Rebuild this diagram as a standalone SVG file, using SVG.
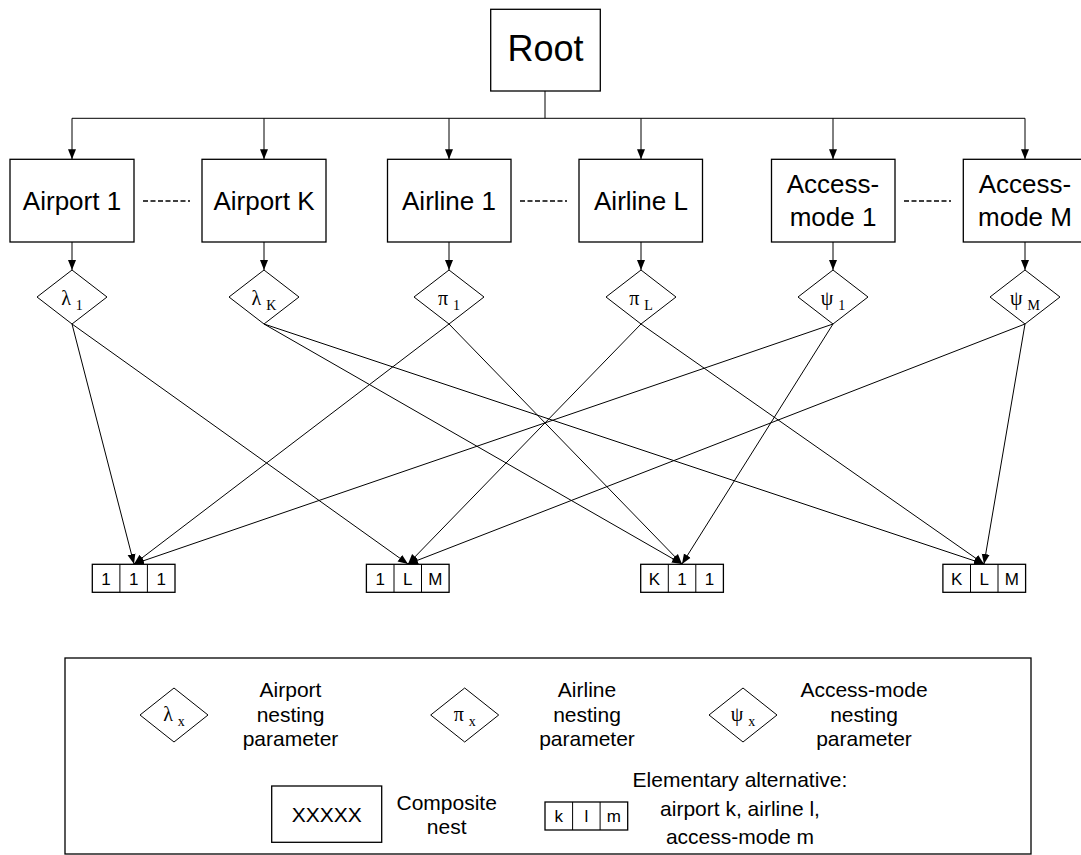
<svg xmlns="http://www.w3.org/2000/svg" width="1081" height="855" viewBox="0 0 1081 855">
<defs>
<marker id="ah" markerUnits="userSpaceOnUse" markerWidth="10" markerHeight="10" viewBox="0 0 10 10" refX="10" refY="5" orient="auto">
<path d="M0,1 L10,5 L0,9 Z" fill="#000"/>
</marker>
<style>
.box{fill:#fff;stroke:#000;stroke-width:1.3}
.dia{fill:#fff;stroke:#000;stroke-width:1}
.ln{fill:none;stroke:#000;stroke-width:1}
.arr{fill:none;stroke:#000;stroke-width:1;marker-end:url(#ah)}
.dash{fill:none;stroke:#000;stroke-width:1.4;stroke-dasharray:5 2.5}
.t{font-family:"Liberation Sans",Arial,sans-serif;fill:#000;text-anchor:middle}
.big{font-size:26px}
.root{font-size:36px}
.cell{font-size:17px}
.leg{font-size:21px}
.g{font-family:"Liberation Serif","Times New Roman",serif;fill:#000;text-anchor:middle;font-size:20px}
.sub{font-size:14px}
</style>
</defs>
<rect width="1081" height="855" fill="#fff"/>

<g id="connectors">
<path class="ln" d="M545,91 V118.3" stroke-width="1.6"/>
<path class="ln" d="M72,118.3 H1025"/>
<path class="arr" d="M72,118.3 V159.3"/>
<path class="arr" d="M264,118.3 V159.3"/>
<path class="arr" d="M449,118.3 V159.3"/>
<path class="arr" d="M641,118.3 V159.3"/>
<path class="arr" d="M833,118.3 V159.3"/>
<path class="arr" d="M1025,118.3 V159.3"/>
<path class="arr" d="M72,242 V270"/>
<path class="arr" d="M264,242 V270"/>
<path class="arr" d="M449,242 V270"/>
<path class="arr" d="M641,242 V270"/>
<path class="arr" d="M833,242 V270"/>
<path class="arr" d="M1025,242 V270"/>
<path class="dash" d="M143,201 H190"/>
<path class="dash" d="M520,201 H567"/>
<path class="dash" d="M904,201 H951"/>
<path class="arr" d="M72,324 L134,564"/>
<path class="arr" d="M72,324 L408,564"/>
<path class="arr" d="M264,324 L682,564"/>
<path class="arr" d="M264,324 L984,564"/>
<path class="arr" d="M449,324 L134,564"/>
<path class="arr" d="M449,324 L682,564"/>
<path class="arr" d="M641,324 L408,564"/>
<path class="arr" d="M641,324 L984,564"/>
<path class="arr" d="M833,324 L134,564"/>
<path class="arr" d="M833,324 L682,564"/>
<path class="arr" d="M1025,324 L408,564"/>
<path class="arr" d="M1025,324 L984,564"/>
</g>

<g id="root">
<rect class="box" x="490.7" y="9.3" width="109.6" height="81.7"/>
<text class="t root" x="545.5" y="61">Root</text>
</g>

<g id="airport1">
<rect class="box" x="10" y="159.3" width="124" height="82.7"/>
<text class="t big" x="72" y="210">Airport 1</text>
</g>
<g id="airportK">
<rect class="box" x="202" y="159.3" width="124" height="82.7"/>
<text class="t big" x="264" y="210">Airport K</text>
</g>
<g id="airline1">
<rect class="box" x="387.5" y="159.3" width="123.5" height="82.7"/>
<text class="t big" x="449" y="210">Airline 1</text>
</g>
<g id="airlineL">
<rect class="box" x="579" y="159.3" width="123.5" height="82.7"/>
<text class="t big" x="641" y="210">Airline L</text>
</g>
<g id="access1">
<rect class="box" x="771.5" y="159.3" width="123.5" height="82.7"/>
<text class="t big" x="833" y="193">Access-</text>
<text class="t big" x="833" y="225.5">mode 1</text>
</g>
<g id="accessM">
<rect class="box" x="963.3" y="159.3" width="123.5" height="82.7"/>
<text class="t big" x="1025" y="193">Access-</text>
<text class="t big" x="1025" y="225.5">mode M</text>
</g>

<g id="lambda1">
<path class="dia" d="M72,270 L107,297 L72,324 L37,297 Z"/>
<text class="g" x="72" y="305">λ <tspan class="sub" dy="5">1</tspan></text>
</g>
<g id="lambdaK">
<path class="dia" d="M264,270 L299,297 L264,324 L229,297 Z"/>
<text class="g" x="264" y="305">λ <tspan class="sub" dy="5">K</tspan></text>
</g>
<g id="pi1">
<path class="dia" d="M449,270 L484,297 L449,324 L414,297 Z"/>
<text class="g" x="449" y="305">π <tspan class="sub" dy="5">1</tspan></text>
</g>
<g id="piL">
<path class="dia" d="M641,270 L676,297 L641,324 L606,297 Z"/>
<text class="g" x="641" y="305">π <tspan class="sub" dy="5">L</tspan></text>
</g>
<g id="psi1">
<path class="dia" d="M833,270 L868,297 L833,324 L798,297 Z"/>
<text class="g" x="833" y="305">ψ <tspan class="sub" dy="5">1</tspan></text>
</g>
<g id="psiM">
<path class="dia" d="M1025,270 L1060,297 L1025,324 L990,297 Z"/>
<text class="g" x="1025" y="305">ψ <tspan class="sub" dy="5">M</tspan></text>
</g>

<g id="alt111">
<rect class="box" x="92.3" y="564.3" width="82.7" height="28"/>
<path class="ln" d="M119.9,564.3 V592.3 M147.4,564.3 V592.3"/>
<text class="t cell" x="106.1" y="585">1</text>
<text class="t cell" x="133.7" y="585">1</text>
<text class="t cell" x="161.2" y="585">1</text>
</g>
<g id="alt1LM">
<rect class="box" x="366.4" y="564.3" width="82.7" height="28"/>
<path class="ln" d="M394,564.3 V592.3 M421.5,564.3 V592.3"/>
<text class="t cell" x="380.2" y="585">1</text>
<text class="t cell" x="407.8" y="585">L</text>
<text class="t cell" x="435.3" y="585">M</text>
</g>
<g id="altK11">
<rect class="box" x="640.7" y="564.3" width="82.7" height="28"/>
<path class="ln" d="M668.3,564.3 V592.3 M695.8,564.3 V592.3"/>
<text class="t cell" x="654.5" y="585">K</text>
<text class="t cell" x="682" y="585">1</text>
<text class="t cell" x="709.6" y="585">1</text>
</g>
<g id="altKLM">
<rect class="box" x="942.9" y="564.3" width="82.7" height="28"/>
<path class="ln" d="M970.5,564.3 V592.3 M998,564.3 V592.3"/>
<text class="t cell" x="956.7" y="585">K</text>
<text class="t cell" x="984.2" y="585">L</text>
<text class="t cell" x="1011.8" y="585">M</text>
</g>

<g id="legend">
<rect class="box" x="65" y="658" width="966" height="196"/>
<path class="dia" d="M174,688 L208,715 L174,742 L140,715 Z"/>
<text class="g" x="174" y="721">λ <tspan class="sub" dy="5">x</tspan></text>
<text class="t leg" x="290.5" y="697">Airport</text>
<text class="t leg" x="290.5" y="721.5">nesting</text>
<text class="t leg" x="290.5" y="746">parameter</text>
<path class="dia" d="M464.7,688 L498.7,715 L464.7,742 L430.7,715 Z"/>
<text class="g" x="464.7" y="721">π <tspan class="sub" dy="5">x</tspan></text>
<text class="t leg" x="587" y="697">Airline</text>
<text class="t leg" x="587" y="721.5">nesting</text>
<text class="t leg" x="587" y="746">parameter</text>
<path class="dia" d="M743,688 L777,715 L743,742 L709,715 Z"/>
<text class="g" x="743" y="721">ψ <tspan class="sub" dy="5">x</tspan></text>
<text class="t leg" x="864" y="697">Access-mode</text>
<text class="t leg" x="864" y="721.5">nesting</text>
<text class="t leg" x="864" y="746">parameter</text>
<rect class="box" x="271.7" y="786" width="110" height="56.3"/>
<text class="t leg" x="326.7" y="822">XXXXX</text>
<text class="t leg" x="446.7" y="809.5">Composite</text>
<text class="t leg" x="446.7" y="834">nest</text>
<rect class="box" x="545" y="802" width="82.7" height="28"/>
<path class="ln" d="M572.6,802 V830 M600.1,802 V830"/>
<text class="t cell" x="558.8" y="822">k</text>
<text class="t cell" x="586.3" y="822">l</text>
<text class="t cell" x="613.9" y="822">m</text>
<text class="t leg" x="740" y="787">Elementary alternative:</text>
<text class="t leg" x="740" y="815.5">airport k, airline l,</text>
<text class="t leg" x="740" y="844">access-mode m</text>
</g>
</svg>
